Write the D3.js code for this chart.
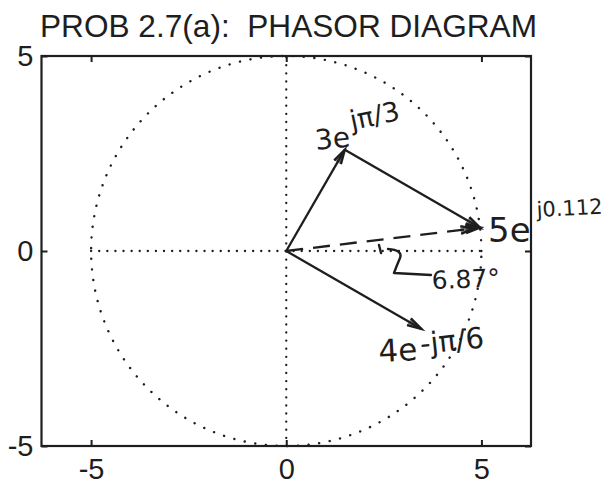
<!DOCTYPE html>
<html><head><meta charset="utf-8">
<script src="https://cdn.jsdelivr.net/npm/d3@7"></script>
<style>body{margin:0;background:#fff}</style>
</head><body>
<script>
// ---- data ----
const title = "PROB 2.7(a):  PHASOR DIAGRAM";
const xTicks = [-5, 0, 5];
const yTicks = [-5, 0, 5];
const circleRadius = 5;
const phasorMag = [3, 4];
const phasorAngleRad = [Math.PI/3, -Math.PI/6];
const resultMag = 5;
const resultAngleRad = 0.12;
const labels = ["3e", "jπ/3", "4e", "-jπ/6", "5e", "j0.112", "6.87°"];

const W = 613, H = 493;
const svg = d3.select("body").append("svg").attr("width", W).attr("height", H);
const x = d3.scaleLinear().domain([-6.27, 6.27]).range([41.5, 531]);
const y = d3.scaleLinear().domain([-5, 5]).range([446, 56]);
const ink = "#1e1e1e";
const font = "'Liberation Sans', Arial, sans-serif";

// title
svg.append("text").attr("x", 40).attr("y", 37)
  .attr("font-family", font).attr("font-size", 30.5).attr("fill", ink)
  .attr("textLength", 497).attr("lengthAdjust", "spacingAndGlyphs")
  .style("white-space", "pre").text(title);

// dotted circle
const circPts = d3.range(0, 361, 2).map(a => [circleRadius*Math.cos(a*Math.PI/180), circleRadius*Math.sin(a*Math.PI/180)]);
svg.append("path").attr("d", d3.line().x(d => x(d[0])).y(d => y(d[1]))(circPts))
  .attr("fill", "none").attr("stroke", ink).attr("stroke-width", 2.4)
  .attr("stroke-linecap", "round").attr("stroke-dasharray", "0.1 10.6");

// dotted axes lines
svg.append("line").attr("x1", x(-5)).attr("x2", x(5)).attr("y1", y(0)).attr("y2", y(0))
  .attr("stroke", ink).attr("stroke-width", 2.3).attr("stroke-linecap", "round").attr("stroke-dasharray", "0.1 8");
svg.append("line").attr("x1", x(0)).attr("x2", x(0)).attr("y1", y(-5)).attr("y2", y(5))
  .attr("stroke", ink).attr("stroke-width", 2.3).attr("stroke-linecap", "round").attr("stroke-dasharray", "0.1 8");

// axes box with inward ticks
const g = svg.append("g");
g.append("rect").attr("x", x.range()[0]).attr("y", y.range()[1])
  .attr("width", x.range()[1]-x.range()[0]).attr("height", y.range()[0]-y.range()[1])
  .attr("fill", "none").attr("stroke", ink).attr("stroke-width", 2.2);
const fmt = d => String(d);
const axB = d3.axisBottom(x).tickValues(xTicks).tickFormat(fmt).tickSizeInner(-6).tickSizeOuter(0).tickPadding(12);
const axL = d3.axisLeft(y).tickValues(yTicks).tickFormat(fmt).tickSizeInner(-6).tickSizeOuter(0).tickPadding(8);
const axT = d3.axisTop(x).tickValues(xTicks).tickSizeInner(-6).tickSizeOuter(0).tickFormat("");
const axR = d3.axisRight(y).tickValues(yTicks).tickSizeInner(-6).tickSizeOuter(0).tickFormat("");
function style(sel){
  sel.select(".domain").remove();
  sel.selectAll("line").attr("stroke", ink).attr("stroke-width", 2);
  sel.selectAll("text").attr("font-family", font).attr("font-size", 29).attr("fill", ink);
}
g.append("g").attr("transform", `translate(0,${y.range()[0]})`).call(axB).call(style);
g.append("g").attr("transform", `translate(${x.range()[0]},0)`).call(axL).call(style);
g.append("g").attr("transform", `translate(0,${y.range()[1]})`).call(axT).call(style);
g.append("g").attr("transform", `translate(${x.range()[1]},0)`).call(axR).call(style);

// arrows
function head(px1, py1, ang, L, s){
  const a1 = [px1 - L*Math.cos(ang - s), py1 - L*Math.sin(ang - s)];
  const a2 = [px1 - L*Math.cos(ang + s), py1 - L*Math.sin(ang + s)];
  svg.append("path").attr("d", `M${a1}L${px1},${py1}L${a2}`)
    .attr("fill", "none").attr("stroke", ink).attr("stroke-width", 2.4).attr("stroke-linejoin", "miter");
  svg.append("path").attr("d", `M${a1}L${px1},${py1}L${a2}Z`).attr("fill", ink).attr("opacity", 0.55);
}
function arrow(x0, y0, x1, y1, dash){
  const px0 = x(x0), py0 = y(y0), px1 = x(x1), py1 = y(y1);
  svg.append("line").attr("x1", px0).attr("y1", py0).attr("x2", px1).attr("y2", py1)
    .attr("stroke", ink).attr("stroke-width", 2.3).attr("stroke-dasharray", dash || null);
  const ang = Math.atan2(py1-py0, px1-px0);
  head(px1, py1, ang, 15, 0.26);
  if (dash) head(px1 - 7*Math.cos(ang), py1 - 7*Math.sin(ang), ang, 13, 0.3);
}
const p1 = [phasorMag[0]*Math.cos(phasorAngleRad[0]), phasorMag[0]*Math.sin(phasorAngleRad[0])];
const p2 = [phasorMag[1]*Math.cos(phasorAngleRad[1]), phasorMag[1]*Math.sin(phasorAngleRad[1])];
const pr = [resultMag*Math.cos(resultAngleRad), resultMag*Math.sin(resultAngleRad)];
arrow(0, 0, p1[0], p1[1]);
arrow(p1[0], p1[1], p1[0]+p2[0], p1[1]+p2[1]);
arrow(0, 0, p2[0], p2[1]);
arrow(0, 0, pr[0], pr[1], "17 10");

// hand annotations
const hand = "'DejaVu Sans', sans-serif";
function txt(tx, ty, s, size, rot){
  svg.append("text").attr("x", tx).attr("y", ty).attr("font-family", hand).attr("font-size", size)
    .attr("fill", ink).attr("transform", rot ? `rotate(${rot},${tx},${ty})` : null).text(s);
}
txt(316, 150, labels[0], 28, -6);
txt(352, 130, labels[1], 27, -12);
txt(379, 362, labels[2], 31, -3);
txt(421, 354, labels[3], 29, -6);
txt(488, 242, labels[4], 34, 0);
txt(537, 217, labels[5], 21, -3);
txt(432, 289, labels[6], 25, -2);
// angle mark
svg.append("path").attr("d", "M379,245 L381,253 M388,249 Q403,250 400,258 Q397,265 394,273 L431,275")
  .attr("fill", "none").attr("stroke", ink).attr("stroke-width", 2.4).attr("stroke-linecap", "round").attr("stroke-linejoin", "round");
</script>
</body></html>
